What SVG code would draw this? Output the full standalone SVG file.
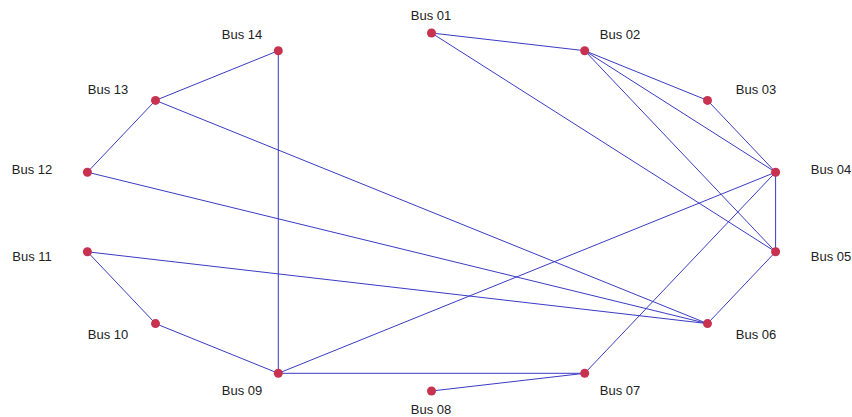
<svg xmlns="http://www.w3.org/2000/svg" width="852" height="417" viewBox="0 0 852 417">
<style>
.e{stroke:#3b3bc4;stroke-width:1;fill:none}
.n{fill:#c8324f}
.t{font-family:"Liberation Sans",Arial,sans-serif;font-size:13px;fill:#222;text-anchor:middle}
</style>
<rect width="852" height="417" fill="#fff"/>
<g id="edges">
<line class="e" x1="431.5" y1="33" x2="584.7" y2="50.7"/>
<line class="e" x1="431.5" y1="33" x2="775.6" y2="251.8"/>
<line class="e" x1="584.7" y1="50.7" x2="707.5" y2="100.4"/>
<line class="e" x1="584.7" y1="50.7" x2="775.6" y2="172.2"/>
<line class="e" x1="584.7" y1="50.7" x2="775.6" y2="251.8"/>
<line class="e" x1="707.5" y1="100.4" x2="775.6" y2="172.2"/>
<line class="e" x1="775.6" y1="172.2" x2="775.6" y2="251.8"/>
<line class="e" x1="775.6" y1="172.2" x2="584.7" y2="373.3"/>
<line class="e" x1="775.6" y1="172.2" x2="278.3" y2="373.3"/>
<line class="e" x1="775.6" y1="251.8" x2="707.5" y2="323.6"/>
<line class="e" x1="707.5" y1="323.6" x2="87.4" y2="251.8"/>
<line class="e" x1="707.5" y1="323.6" x2="87.4" y2="172.2"/>
<line class="e" x1="707.5" y1="323.6" x2="155.5" y2="100.4"/>
<line class="e" x1="584.7" y1="373.3" x2="431.5" y2="391"/>
<line class="e" x1="584.7" y1="373.3" x2="278.3" y2="373.3"/>
<line class="e" x1="278.3" y1="373.3" x2="155.5" y2="323.6"/>
<line class="e" x1="278.3" y1="373.3" x2="278.3" y2="50.7"/>
<line class="e" x1="155.5" y1="323.6" x2="87.4" y2="251.8"/>
<line class="e" x1="87.4" y1="172.2" x2="155.5" y2="100.4"/>
<line class="e" x1="155.5" y1="100.4" x2="278.3" y2="50.7"/>
</g>
<g id="bus01"><circle class="n" cx="431.5" cy="33" r="4.5"/><text class="t" x="431" y="20">Bus 01</text></g>
<g id="bus02"><circle class="n" cx="584.7" cy="50.7" r="4.5"/><text class="t" x="620" y="39">Bus 02</text></g>
<g id="bus03"><circle class="n" cx="707.5" cy="100.4" r="4.5"/><text class="t" x="756" y="94">Bus 03</text></g>
<g id="bus04"><circle class="n" cx="775.6" cy="172.2" r="4.5"/><text class="t" x="831" y="174">Bus 04</text></g>
<g id="bus05"><circle class="n" cx="775.6" cy="251.8" r="4.5"/><text class="t" x="831" y="261">Bus 05</text></g>
<g id="bus06"><circle class="n" cx="707.5" cy="323.6" r="4.5"/><text class="t" x="756" y="339">Bus 06</text></g>
<g id="bus07"><circle class="n" cx="584.7" cy="373.3" r="4.5"/><text class="t" x="620" y="395">Bus 07</text></g>
<g id="bus08"><circle class="n" cx="431.5" cy="391" r="4.5"/><text class="t" x="431" y="414">Bus 08</text></g>
<g id="bus09"><circle class="n" cx="278.3" cy="373.3" r="4.5"/><text class="t" x="242" y="395">Bus 09</text></g>
<g id="bus10"><circle class="n" cx="155.5" cy="323.6" r="4.5"/><text class="t" x="108" y="339">Bus 10</text></g>
<g id="bus11"><circle class="n" cx="87.4" cy="251.8" r="4.5"/><text class="t" x="32" y="261">Bus 11</text></g>
<g id="bus12"><circle class="n" cx="87.4" cy="172.2" r="4.5"/><text class="t" x="32" y="174">Bus 12</text></g>
<g id="bus13"><circle class="n" cx="155.5" cy="100.4" r="4.5"/><text class="t" x="108" y="94">Bus 13</text></g>
<g id="bus14"><circle class="n" cx="278.3" cy="50.7" r="4.5"/><text class="t" x="242" y="39">Bus 14</text></g>
</svg>
